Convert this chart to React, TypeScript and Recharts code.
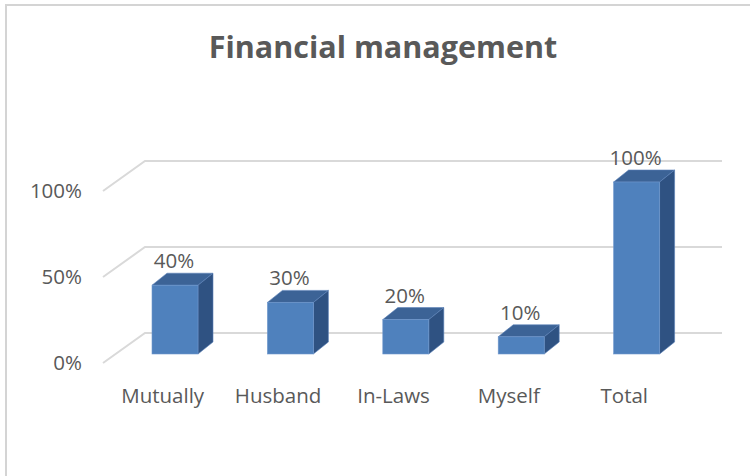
import { Bar, BarChart, CartesianGrid, LabelList, XAxis, YAxis } from "recharts";

const categories = ["Mutually", "Husband", "In-Laws", "Myself", "Total"];
const shares = [40, 30, 20, 10, 100];
const yTicks = [0, 50, 100];
const title = "Financial management";

const data = categories.map((name, i) => ({ name, value: shares[i] }));

const FRONT = "#4f81bd";
const TOP = "#3c6396";
const SIDE = "#2f5282";
const GRID = "#d9d9d9";
const INK = "#595959";
const FONT = "'Open Sans', sans-serif";
const FS = 20.5;

// bar depth offset (3d look)
const DX = 15;
const DY = -12;

function Bar3D(props: any) {
  const { x, y, width, height } = props;
  if (height <= 0) return null;
  const top = `${x},${y} ${x + DX},${y + DY} ${x + width + DX},${y + DY} ${x + width},${y}`;
  const side = `${x + width},${y} ${x + width + DX},${y + DY} ${x + width + DX},${y + height + DY} ${x + width},${y + height}`;
  return (
    <g>
      <polygon points={top} fill={TOP} stroke="#5a82b8" strokeWidth={0.6} />
      <polygon points={side} fill={SIDE} stroke="#5a82b8" strokeWidth={0.6} />
      <rect x={x} y={y} width={width} height={height} fill={FRONT} stroke="#6f97cc" strokeWidth={0.6} />
    </g>
  );
}

// gridline: diagonal on the left side wall, then along the back wall
function GridLine(props: any) {
  const { x1, x2, y1 } = props;
  const d = `M${x1 - 14},${y1 + 9} L${x1 + 28},${y1 - 21} L${x2 + 28},${y1 - 21}`;
  return <path d={d} fill="none" stroke={GRID} strokeWidth={2} />;
}

function YTick(props: any) {
  const { y, payload } = props;
  return (
    <text x={82} y={y + 9} dy="0.35em" textAnchor="end" fontSize={FS} fill={INK} fontFamily={FONT}>
      {payload.value}%
    </text>
  );
}

function XTick(props: any) {
  const { x, payload } = props;
  return (
    <text x={x - 12} y={396} dy="0.35em" textAnchor="middle" fontSize={FS} fill={INK} fontFamily={FONT}>
      {payload.value}
    </text>
  );
}

function ValueLabel(props: any) {
  const { x, y, width, value } = props;
  return (
    <text x={x + width / 2 - 1} y={y - 17} textAnchor="middle" fontSize={FS} fill={INK} fontFamily={FONT}>
      {value}%
    </text>
  );
}

export default function App() {
  return (
    <div style={{ position: "absolute", left: 0, top: 0, width: 750, height: 476, background: "#fff", overflow: "hidden" }}>
      <BarChart width={750} height={476} data={data} margin={{ top: 182, right: 56, bottom: 82, left: 57 }}>
        <rect x={6} y={5} width={800} height={600} fill="none" stroke="#d4d4d4" strokeWidth={2} />
        <text x={383} y={58} textAnchor="middle" fontSize={30.5} fontWeight={700} fill={INK} fontFamily={FONT}>
          {title}
        </text>
        <CartesianGrid vertical={false} horizontal={(p: any) => <GridLine key={p.key} {...p} />} />
        <XAxis dataKey="name" axisLine={false} tickLine={false} height={40} tick={<XTick />} interval={0} />
        <YAxis domain={[0, 100]} ticks={yTicks} axisLine={false} tickLine={false} width={60} tick={<YTick />} />
        <Bar dataKey="value" barSize={46} shape={<Bar3D />} isAnimationActive={false}>
          <LabelList dataKey="value" content={<ValueLabel />} />
        </Bar>
      </BarChart>
    </div>
  );
}
